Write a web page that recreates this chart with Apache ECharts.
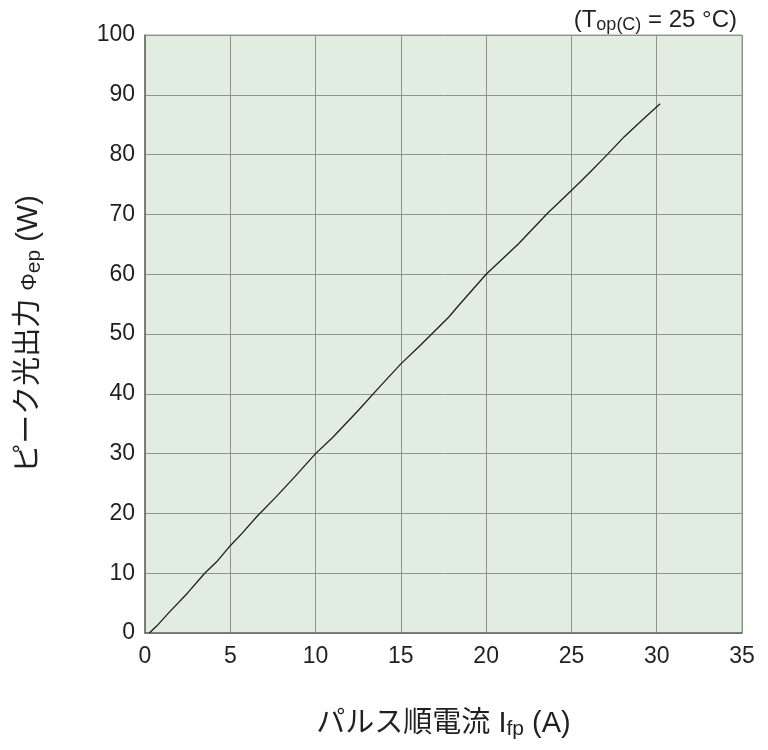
<!DOCTYPE html>
<html>
<head>
<meta charset="utf-8">
<script src="https://cdn.jsdelivr.net/npm/echarts@6/dist/echarts.min.js"></script>
<style>
html,body{margin:0;padding:0;background:#fff;}
#c{width:768px;height:750px;}
</style>
</head>
<body>
<div id="c"></div>
<script>
// Pulse forward current If_p (A)
var currentA = [0.25, 0.7, 1.4, 2.5, 3.5, 4.2, 5.0, 5.7, 6.6, 7.7, 8.8, 10.0, 11.0, 12.5, 13.7, 15.0, 16.1, 17.8, 18.4, 20.0, 21.9, 23.6, 25.0, 26.0, 27.1, 28.1, 29.2, 30.2];
// Peak optical output Φe_p (W)
var powerW = [0, 1.2, 3.4, 6.7, 10.0, 11.9, 14.6, 16.7, 19.6, 22.8, 26.2, 30.0, 32.7, 37.2, 41.0, 45.0, 48.0, 52.8, 54.8, 60.0, 65.1, 70.2, 74.0, 76.8, 80.0, 83.0, 85.9, 88.5];
var xTicks = [0, 5, 10, 15, 20, 25, 30, 35];
var yTicks = [0, 10, 20, 30, 40, 50, 60, 70, 80, 90, 100];

var FONT = '"Liberation Sans", "Noto Sans CJK JP", sans-serif';
var TXT = '#231f20';

var chart = echarts.init(document.getElementById('c'));
chart.setOption({
  animation: false,
  title: {
    text: '(T{sub|op(C)} = 25 °C)',
    right: 26,
    top: 2,
    textStyle: {
      fontFamily: FONT, fontSize: 24, fontWeight: 'normal', color: TXT,
      rich: { sub: { fontFamily: FONT, fontSize: 18, color: TXT, padding: [9, 0, 0, 0] } }
    }
  },
  grid: {
    left: 145, right: 26, top: 35, bottom: 117,
    show: true, backgroundColor: '#e0ede0', borderColor: '#9a9a9a', borderWidth: 1
  },
  xAxis: {
    type: 'value', min: 0, max: 35, interval: 5,
    name: 'パルス順電流 I{sub|fp} (A)',
    nameLocation: 'middle', nameGap: 75,
    nameTextStyle: {
      fontFamily: FONT, fontSize: 29, color: TXT,
      rich: { sub: { fontFamily: FONT, fontSize: 21, color: TXT, padding: [11, 0, 0, 0] } }
    },
    axisLine: { show: true, lineStyle: { color: '#6a6a6a', width: 1.5 } },
    axisTick: { show: false },
    axisLabel: {
      fontFamily: FONT, fontSize: 23, color: TXT, margin: 12,
      formatter: function (v) { return xTicks.indexOf(v) >= 0 ? String(v) : ''; }
    },
    splitLine: { show: true, lineStyle: { color: '#8c948c', width: 1 } }
  },
  yAxis: {
    type: 'value', min: 0, max: 100, interval: 10,
    name: 'ピーク光出力 {phi|Φ}{sub|ep} (W)',
    nameLocation: 'middle', nameGap: 100, nameRotate: 90,
    nameTextStyle: {
      fontFamily: FONT, fontSize: 29, color: TXT,
      rich: {
        phi: { fontFamily: FONT, fontSize: 22, color: TXT, padding: [2, 0, 0, 0] },
        sub: { fontFamily: FONT, fontSize: 21, color: TXT, padding: [11, 0, 0, 0] }
      }
    },
    axisLine: { show: true, lineStyle: { color: '#6a6a6a', width: 1.5 } },
    axisTick: { show: false },
    axisLabel: {
      fontFamily: FONT, fontSize: 23, color: TXT, margin: 10,
      formatter: function (v) { return yTicks.indexOf(v) >= 0 ? String(v) : ''; }
    },
    splitLine: { show: true, lineStyle: { color: '#8c948c', width: 1 } }
  },
  series: [{
    type: 'line',
    data: currentA.map(function (x, i) { return [x, powerW[i]]; }),
    showSymbol: false,
    smooth: false,
    lineStyle: { color: '#1e1e1e', width: 1.3 }
  }]
});
</script>
</body>
</html>
